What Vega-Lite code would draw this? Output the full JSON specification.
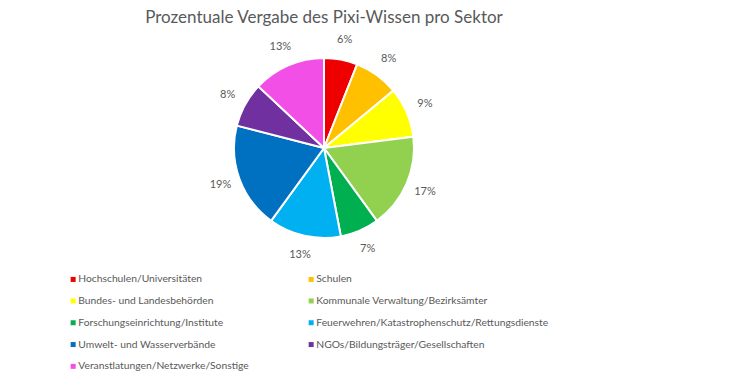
{
  "$schema": "https://vega.github.io/schema/vega-lite/v6.json",
  "autosize": {"type": "none"},
  "width": 648,
  "height": 216,
  "padding": {"left": 0, "top": 40, "right": 82, "bottom": 120},
  "background": "white",
  "title": {"text": "Prozentuale Vergabe des Pixi-Wissen pro Sektor", "fontSize": 17, "font": "Lato", "fontWeight": "normal", "color": "#595959", "anchor": "middle", "offset": 16, "dy": 22, "baseline": "alphabetic"},
  "data": {"values": [
    {"i": 1, "sektor": "Hochschulen/Universitäten", "anteil": 0.06},
    {"i": 2, "sektor": "Schulen", "anteil": 0.08},
    {"i": 3, "sektor": "Bundes- und Landesbehörden", "anteil": 0.09},
    {"i": 4, "sektor": "Kommunale Verwaltung/Bezirksämter", "anteil": 0.17},
    {"i": 5, "sektor": "Forschungseinrichtung/Institute", "anteil": 0.07},
    {"i": 6, "sektor": "Feuerwehren/Katastrophenschutz/Rettungsdienste", "anteil": 0.13},
    {"i": 7, "sektor": "Umwelt- und Wasserverbände", "anteil": 0.19},
    {"i": 8, "sektor": "NGOs/Bildungsträger/Gesellschaften", "anteil": 0.08},
    {"i": 9, "sektor": "Veranstlatungen/Netzwerke/Sonstige", "anteil": 0.13}
  ]},
  "encoding": {
    "theta": {"field": "anteil", "type": "quantitative", "stack": true},
    "order": {"field": "i", "type": "quantitative"}
  },
  "layer": [
    {
      "mark": {"type": "arc", "outerRadius": 90, "stroke": "white", "strokeWidth": 2},
      "encoding": {
        "color": {
          "field": "sektor", "type": "nominal", "sort": null,
          "scale": {
            "domain": ["Hochschulen/Universitäten", "Schulen", "Bundes- und Landesbehörden", "Kommunale Verwaltung/Bezirksämter", "Forschungseinrichtung/Institute", "Feuerwehren/Katastrophenschutz/Rettungsdienste", "Umwelt- und Wasserverbände", "NGOs/Bildungsträger/Gesellschaften", "Veranstlatungen/Netzwerke/Sonstige"],
            "range": ["#EE0000", "#FFC000", "#FFFF00", "#92D050", "#00B050", "#00B0F0", "#0070C0", "#7030A0", "#F24FE6"]
          },
          "legend": {
            "orient": "none", "legendX": 68, "legendY": 234, "columns": 2, "direction": "horizontal", "title": null,
            "symbolType": "square", "symbolSize": 25, "symbolStrokeWidth": 0,
            "labelFontSize": 10.3, "labelFont": "Lato", "labelColor": "#595959", "labelLimit": 400,
            "rowPadding": 10.8, "columnPadding": 57, "labelOffset": 0
          }
        }
      }
    },
    {
      "mark": {"type": "text", "radius": 110, "fontSize": 11, "font": "Lato", "fill": "#595959"},
      "encoding": {
        "detail": {"field": "sektor", "type": "nominal"},
        "text": {"field": "anteil", "type": "quantitative", "format": ".0%"}
      }
    }
  ],
  "config": {"view": {"stroke": null}}
}
